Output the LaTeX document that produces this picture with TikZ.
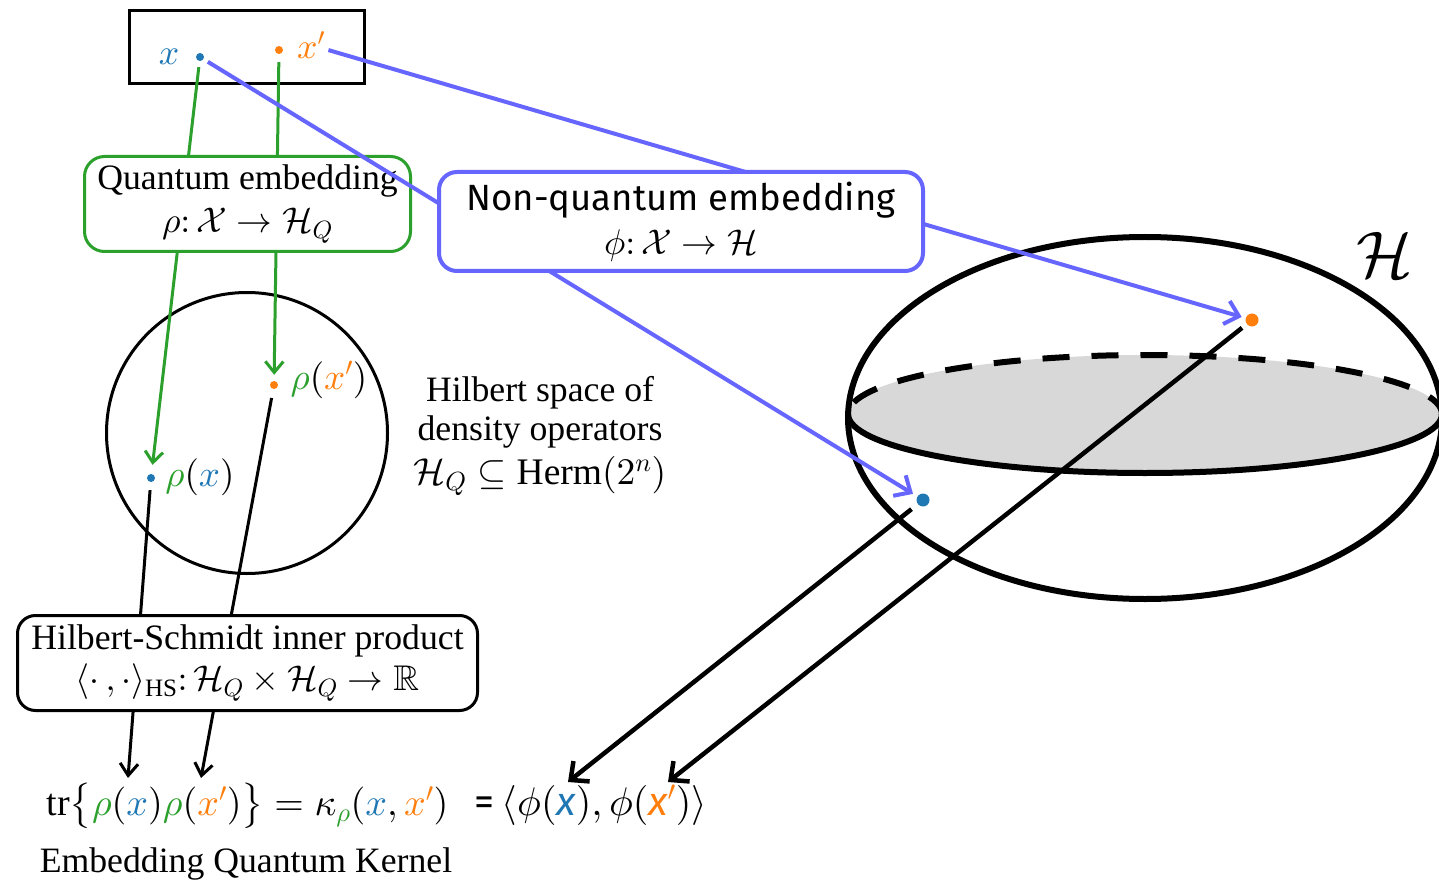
\documentclass[tikz,border=0pt]{standalone}
\usepackage{amssymb}
\usepackage{fontspec}
\setmainfont{Liberation Serif}
\newfontfamily\ubu{Fira Sans}
\usetikzlibrary{arrows.meta,positioning}
% scalable math fonts
\DeclareFontShape{OT1}{cmr}{m}{n}{<->cmr10}{}
\DeclareFontShape{OML}{cmm}{m}{it}{<->cmmi10}{\skewchar\font'177}
\DeclareFontShape{OMS}{cmsy}{m}{n}{<->cmsy10}{\skewchar\font'60}
\DeclareFontShape{OMX}{cmex}{m}{n}{<->cmex10}{}
\newcommand\lbig[1]{\mathopen{\hbox{$\left#1\vbox to 34pt{}\right.\nulldelimiterspace0pt$}}}
\newcommand\rbig[1]{\mathclose{\hbox{$\left#1\vbox to 34pt{}\right.\nulldelimiterspace0pt$}}}

\definecolor{qgreen}{RGB}{44,160,44}
\definecolor{pblue}{RGB}{31,119,180}
\definecolor{porange}{RGB}{255,127,14}
\definecolor{violetline}{RGB}{102,102,255}
\definecolor{discgray}{RGB}{216,216,216}

\tikzset{
  pdot/.style={circle, fill=#1, inner sep=0pt, minimum size=8pt},
  bigdot/.style={circle, fill=#1, inner sep=0pt, minimum size=13pt},
  textbox/.style={draw=#1, fill=white, line width=3pt, rounded corners=20pt,
    align=center, inner sep=0pt},
  qline/.style={qgreen, line width=3pt, -{Straight Barb[length=11pt,width=18pt]}},
  cline/.style={violetline, line width=4pt, -{Straight Barb[length=13pt,width=24pt]}},
  kline/.style={black, line width=3pt, -{Straight Barb[length=12pt,width=18pt]}},
  kkline/.style={black, line width=4.5pt, -{Straight Barb[length=14pt,width=26pt]}},
}

\begin{document}
\begin{tikzpicture}[x=1pt, y=-1pt, font=\fontsize{35.7}{41}\selectfont]
    \useasboundingbox (0,0) rectangle (1439,882);
    \clip (0,0) rectangle (1439,882);

    % Feature space
      \fill[discgray] (1145,414) ellipse [x radius=297, y radius=59];
      \begin{scope}
        \clip (800,300) rectangle (1439,414);
        \draw[line width=6pt, dash pattern=on 27pt off 22pt] (1145,414) ellipse [x radius=297, y radius=59];
      \end{scope}
      \begin{scope}
        \clip (800,414) rectangle (1439,500);
        \draw[line width=6pt] (1145,414) ellipse [x radius=297, y radius=59];
      \end{scope}
      \draw[line width=6pt] (1145,418) ellipse [x radius=297, y radius=181];
      \node (hlab) at (1385,255) {\fontsize{66}{70}\selectfont$\mathcal{H}$};

    % Points
      \node[draw, line width=3pt, minimum width=235pt, minimum height=73pt] (inbox) at (247,47) {};
      \node[text=pblue] (xlab) at (169,57) {$x$};
      \node[pdot=pblue] (xdot) at (200,57) {};
      \node[pdot=porange] (xpdot) at (279,50) {};
      \node[text=porange] (xplab) at (311,45) {$x'$};

      \node[circle, draw, line width=3pt, minimum size=281pt] (hq) at (247,433) {};
      \node[pdot=pblue] (rxdot) at (151,478) {};
      \node[pdot=porange] (rxpdot) at (274,385) {};
      \node[font=\fontsize{37}{41}\selectfont] (rxlab) at (200,477) {$\textcolor{qgreen}{\rho}(\textcolor{pblue}{x})$};
      \node[font=\fontsize{37}{41}\selectfont] (rxplab) at (329,380) {$\textcolor{qgreen}{\rho}(\textcolor{porange}{x'})$};
      \node[align=center, font=\fontsize{35.7}{39}\selectfont] (hqtext) at (540,436)
        {Hilbert space of\\density operators\\[5pt]\fontsize{37.5}{40}\selectfont$\mathcal{H}_Q\subseteq\mathrm{Herm}(2^n)$};

      \node[bigdot=pblue] (pxdot) at (923,500) {};
      \node[bigdot=porange] (pxpdot) at (1252,320) {};

      \coordinate (kx) at (128,778);
      \coordinate (kxp) at (201,778);
      \coordinate (px) at (568,782);
      \coordinate (pxp) at (668,782);

    % Quantum embedding
      \draw[qline, shorten <=6pt, shorten >=9pt] (xdot) -- (rxdot);
      \draw[qline, shorten <=8pt, shorten >=6pt] (xpdot) -- (rxpdot);
      \node[textbox=qgreen, minimum width=326pt, minimum height=95pt] (qemb) at (247.5,204)
        {Quantum embedding\\[2pt]$\rho\colon\mathcal{X}\to\mathcal{H}_Q$};

    % Inner product
      \draw[kline, shorten <=8pt] (rxdot) -- (kx);
      \draw[kline, shorten <=9pt] (rxpdot) -- (kxp);
      \node[textbox=black, rounded corners=18pt, minimum width=460pt, minimum height=95pt] (hsip) at (247.5,663)
        {Hilbert-Schmidt inner product\\$\langle\cdot\,,\cdot\rangle_{\mathrm{HS}}\colon\mathcal{H}_Q\times\mathcal{H}_Q\to\mathbb{R}$};

    % Non-quantum embedding
      \draw[cline, shorten <=5pt, shorten >=5pt] (xdot) -- (pxdot);
      \draw[cline, shorten >=4pt] (xplab) -- (pxpdot);
      \node[textbox=violetline, line width=4pt, rounded corners=18pt, minimum width=484pt, minimum height=99pt] (nqemb) at (681,221.5)
        {{\ubu\fontsize{36.5}{41}\selectfont Non-quantum embedding}\\[3pt]$\phi\colon\mathcal{X}\to\mathcal{H}$};

      \draw[kkline, shorten <=8pt] (pxdot) -- (px);
      \draw[kkline, shorten <=6pt] (pxpdot) -- (pxp);

    % Kernel
      \node[font=\fontsize{38}{43}\selectfont] (lhs) at (247.5,805)
        {$\mathrm{tr}\lbig\{\textcolor{qgreen}{\rho}(\textcolor{pblue}{x})\textcolor{qgreen}{\rho}(\textcolor{porange}{x'})\rbig\}
          = \kappa_{\textcolor{qgreen}{\rho}}(\textcolor{pblue}{x},\textcolor{porange}{x'})$};
      \node[font=\fontsize{40}{44}\selectfont] (rhs) at (591,805)
        {{\ubu =}\,$\langle\phi(\textcolor{pblue}{\mbox{\ubu\itshape x}}),\phi(\textcolor{porange}{\mbox{\ubu\itshape x}'})\rangle$};
      \node (eqk) at (246,864) {Embedding Quantum Kernel};
\end{tikzpicture}
\end{document}
